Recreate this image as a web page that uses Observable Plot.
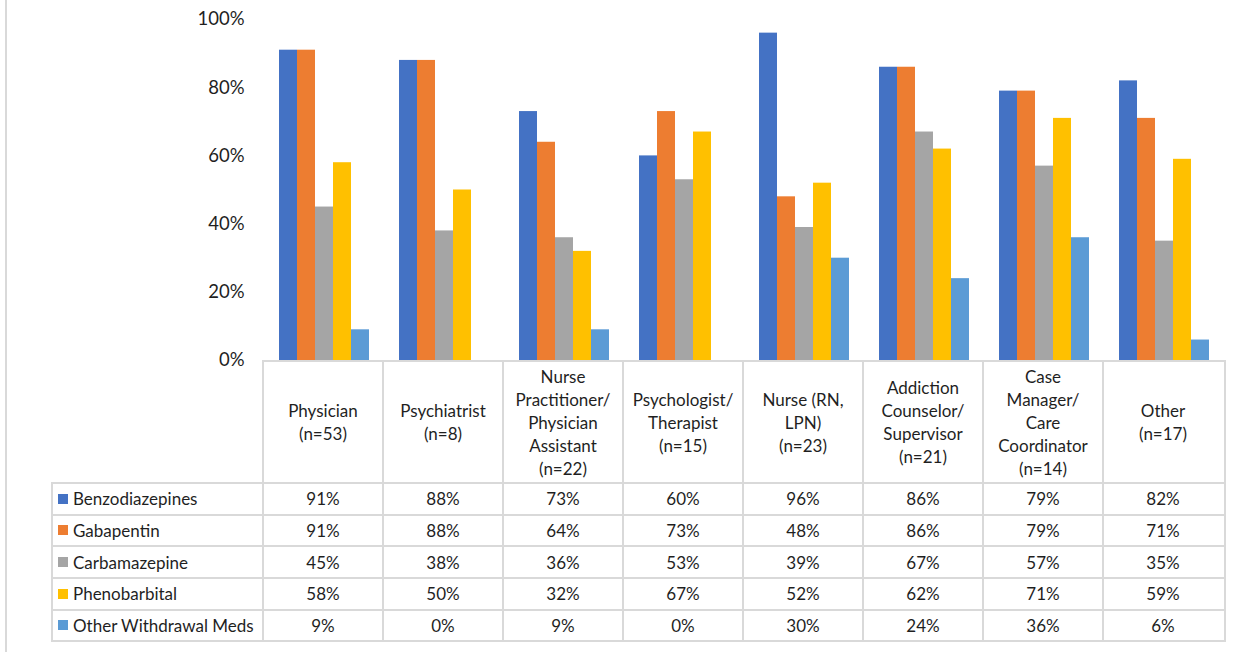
<!DOCTYPE html>
<html><head><meta charset="utf-8">
<script src="https://cdn.jsdelivr.net/npm/d3@7"></script>
<script src="https://cdn.jsdelivr.net/npm/@observablehq/plot@0.6"></script>
<style>
body{margin:0;background:#fff;font-family:Lato,"Open Sans",sans-serif;}
#wrap{position:relative;width:1251px;height:652px;overflow:hidden;background:#fff;}
#edge{position:absolute;left:5px;top:0;width:2px;height:652px;background:#d9d9d9;}
#chart{position:absolute;left:0;top:0;}
.ln{position:absolute;background:#d9d9d9;}
.cell{position:absolute;display:flex;align-items:center;justify-content:center;text-align:center;color:#1f1f1f;font-size:17px;line-height:23px;white-space:pre;}
.lab{position:absolute;display:flex;align-items:center;color:#1f1f1f;font-size:17px;white-space:pre;}
.sw{display:inline-block;width:10px;height:10px;margin-right:5px;}
</style></head><body>
<div id="wrap"><div id="edge"></div><div id="chart"></div></div>
<script>
const categories = ["Physician\n(n=53)", "Psychiatrist\n(n=8)", "Nurse\nPractitioner/\nPhysician\nAssistant\n(n=22)", "Psychologist/\nTherapist\n(n=15)", "Nurse (RN,\nLPN)\n(n=23)", "Addiction\nCounselor/\nSupervisor\n(n=21)", "Case\nManager/\nCare\nCoordinator\n(n=14)", "Other\n(n=17)"];
const seriesNames = ["Benzodiazepines", "Gabapentin", "Carbamazepine", "Phenobarbital", "Other Withdrawal Meds"];
const benzodiazepines = [91, 88, 73, 60, 96, 86, 79, 82];
const gabapentin = [91, 88, 64, 73, 48, 86, 79, 71];
const carbamazepine = [45, 38, 36, 53, 39, 67, 57, 35];
const phenobarbital = [58, 50, 32, 67, 52, 62, 71, 59];
const otherMeds = [9, 0, 9, 0, 30, 24, 36, 6];
const seriesColors = ["#4472C4", "#ED7D31", "#A5A5A5", "#FFC000", "#5B9BD5"];
const yTicks = [0, 20, 40, 60, 80, 100];

const seriesValues = [benzodiazepines, gabapentin, carbamazepine, phenobarbital, otherMeds];
const data = [];
seriesNames.forEach((s, si) => categories.forEach((c, ci) => data.push({category: c, series: s, value: seriesValues[si][ci]})));

const chart = Plot.plot({
  width: 1251, height: 380,
  marginLeft: 263, marginRight: 26, marginTop: 19, marginBottom: 20,
  style: {fontFamily: "Lato, 'Open Sans', sans-serif", background: "transparent"},
  fx: {domain: categories, padding: 0, axis: null},
  x: {domain: seriesNames, paddingInner: 0, paddingOuter: 0.72, axis: null},
  y: {domain: [0, 100], axis: null},
  color: {domain: seriesNames, range: seriesColors},
  marks: [
    Plot.barY(data, {fx: "category", x: "series", y: "value", fill: "series"}),
    Plot.axisY({ticks: yTicks, tickFormat: d => d + "%", tickSize: 0, tickPadding: 20, fontSize: 18.5, label: null, fill: "#1f1f1f"})
  ]
});
document.getElementById("chart").appendChild(chart);

// data table aligned to the fx band scale
const fx = chart.scale("fx");
const wrap = document.getElementById("wrap");
const step = fx.step;
const x0 = fx.range[0];
const colX = categories.map((c, i) => x0 + i * step);
const xEnd = fx.range[1];
const leftX = 52;
const rowY = [361, 483, 514.7, 546.3, 578, 609.7, 641];
const lw = 2;
function line(x, y, w, h) {
  const d = document.createElement("div");
  d.className = "ln";
  d.style.left = x + "px"; d.style.top = y + "px"; d.style.width = w + "px"; d.style.height = h + "px";
  wrap.appendChild(d);
}
// horizontal lines
line(x0 - 1, rowY[0] - 1, xEnd - x0 + lw, lw);
for (let r = 1; r < rowY.length; r++) line(leftX - 1, rowY[r] - 1, xEnd - leftX + lw, lw);
// vertical lines
line(leftX - 1, rowY[1] - 1, lw, rowY[6] - rowY[1] + lw);
colX.concat([xEnd]).forEach(x => line(x - 1, rowY[0] - 1, lw, rowY[6] - rowY[0] + lw));
// header cells
categories.forEach((c, i) => {
  const d = document.createElement("div");
  d.className = "cell";
  d.style.left = colX[i] + "px"; d.style.top = rowY[0] + "px";
  d.style.width = step + "px"; d.style.height = (rowY[1] - rowY[0]) + "px";
  d.textContent = c;
  wrap.appendChild(d);
});
// data rows
seriesNames.forEach((s, si) => {
  const top = rowY[si + 1], h = rowY[si + 2] - rowY[si + 1];
  const lab = document.createElement("div");
  lab.className = "lab";
  lab.style.left = (leftX + 6) + "px"; lab.style.top = top + "px"; lab.style.height = h + "px";
  const sw = document.createElement("span");
  sw.className = "sw"; sw.style.background = seriesColors[si];
  lab.appendChild(sw);
  lab.appendChild(document.createTextNode(s));
  wrap.appendChild(lab);
  categories.forEach((c, ci) => {
    const d = document.createElement("div");
    d.className = "cell";
    d.style.left = colX[ci] + "px"; d.style.top = top + "px";
    d.style.width = step + "px"; d.style.height = h + "px";
    d.textContent = seriesValues[si][ci] + "%";
    wrap.appendChild(d);
  });
});
</script>
</body></html>
